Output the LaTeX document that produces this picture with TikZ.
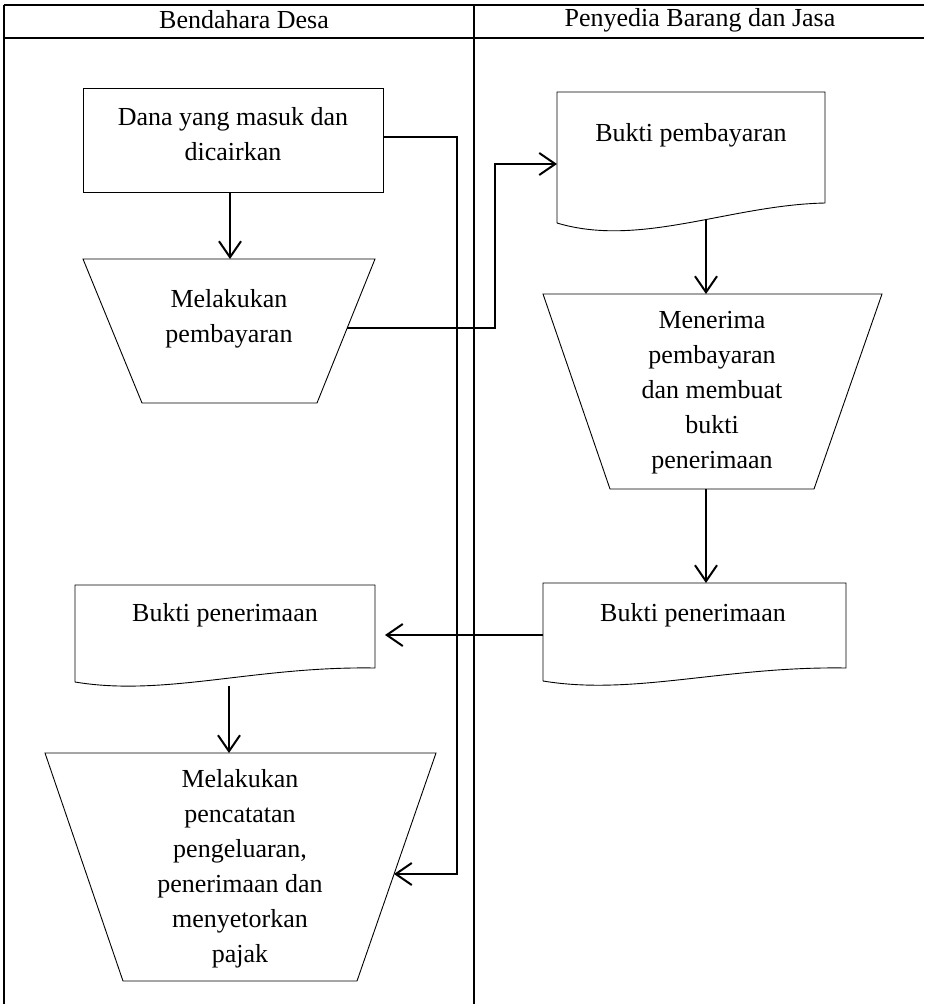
\documentclass[tikz,border=0pt]{standalone}
\usepackage{fontspec}
\setmainfont{Liberation Serif}
\usetikzlibrary{arrows.meta}
\begin{document}
\begin{tikzpicture}[x=1pt,y=-1pt,
  frame/.style={line width=2pt},
  shapeline/.style={line width=0.9pt, line join=miter},
  flow/.style={line width=2pt, -{Straight Barb[length=16pt,width=22pt]}},
  txt/.style={font=\fontsize{26}{35}\selectfont, align=center, inner sep=0pt},
]
\useasboundingbox (0,0) rectangle (924,1004);

% swimlane frame
\draw[frame] (3.5,4.5) -- (924,4.5);
\draw[frame] (3.5,37.5) -- (924,37.5);
\draw[frame] (3.5,4.5) -- (3.5,1004);
\draw[frame] (473.5,4.5) -- (473.5,1004);
\node[txt] (laneA) at (244,20) {Bendahara Desa};
\node[txt] (laneB) at (700,20) {Penyedia Barang dan Jasa};

% Bendahara Desa: incoming funds
\draw[shapeline] (83,88) rectangle (383,192);
\node[txt] (dana) at (233,134) {Dana yang masuk dan\\dicairkan};
\coordinate (dana-s) at (230,192);
\coordinate (dana-e) at (383,137);

% Bendahara Desa: payment (manual operation)
\draw[shapeline] (83,259) -- (375,259) -- (317,403) -- (142,403) -- cycle;
\node[txt] (bayar) at (229,319) {Melakukan\\pembayaran};
\coordinate (bayar-n) at (230,259);
\coordinate (bayar-e) at (347,328);

% Penyedia: payment receipt document
\draw[shapeline] (557,223) -- (557,92) -- (825,92) -- (825,203)
  .. controls (730,205) and (640,248) .. (557,223);
\node[txt] (bukti1) at (691,135) {Bukti pembayaran};
\coordinate (bukti1-w) at (557,164);
\coordinate (bukti1-s) at (706,220);

% Penyedia: receive payment (manual operation)
\draw[shapeline] (543,294) -- (882,294) -- (814,489) -- (610,489) -- cycle;
\node[txt] (terima) at (712,393) {Menerima\\pembayaran\\dan membuat\\bukti\\penerimaan};
\coordinate (terima-n) at (706,294);
\coordinate (terima-s) at (706,489);

% Penyedia: acceptance receipt document
\draw[shapeline] (543,681) -- (543,583) -- (846,583) -- (846,668)
  .. controls (725,666) and (634,696) .. (543,681);
\node[txt] (bpB) at (693,615) {Bukti penerimaan};
\coordinate (bpB-n) at (706,583);
\coordinate (bpB-w) at (543,635);

% Bendahara Desa: acceptance receipt document
\draw[shapeline] (75,682) -- (75,585) -- (375,585) -- (375,668)
  .. controls (255,666) and (165,697) .. (75,682);
\node[txt] (bpA) at (225,615) {Bukti penerimaan};
\coordinate (bpA-e) at (385,635);
\coordinate (bpA-s) at (229,686);

% Bendahara Desa: recording (manual operation)
\draw[shapeline] (45,753) -- (436,753) -- (357,981) -- (123,981) -- cycle;
\node[txt] (catat) at (240,869) {Melakukan\\pencatatan\\pengeluaran,\\penerimaan dan\\menyetorkan\\pajak};
\coordinate (catat-n) at (229,753);
\coordinate (catat-e) at (394,874);

% flows
\draw[flow] (dana-s) -- (bayar-n);
\draw[flow] (bayar-e) -- ++(148,0) |- (bukti1-w);
\draw[flow] (bukti1-s) -- (terima-n);
\draw[flow] (terima-s) -- (bpB-n);
\draw[flow] (bpB-w) -- (bpA-e);
\draw[flow] (bpA-s) -- (catat-n);
\draw[flow] (dana-e) -- ++(74,0) |- (catat-e);
\end{tikzpicture}
\end{document}
